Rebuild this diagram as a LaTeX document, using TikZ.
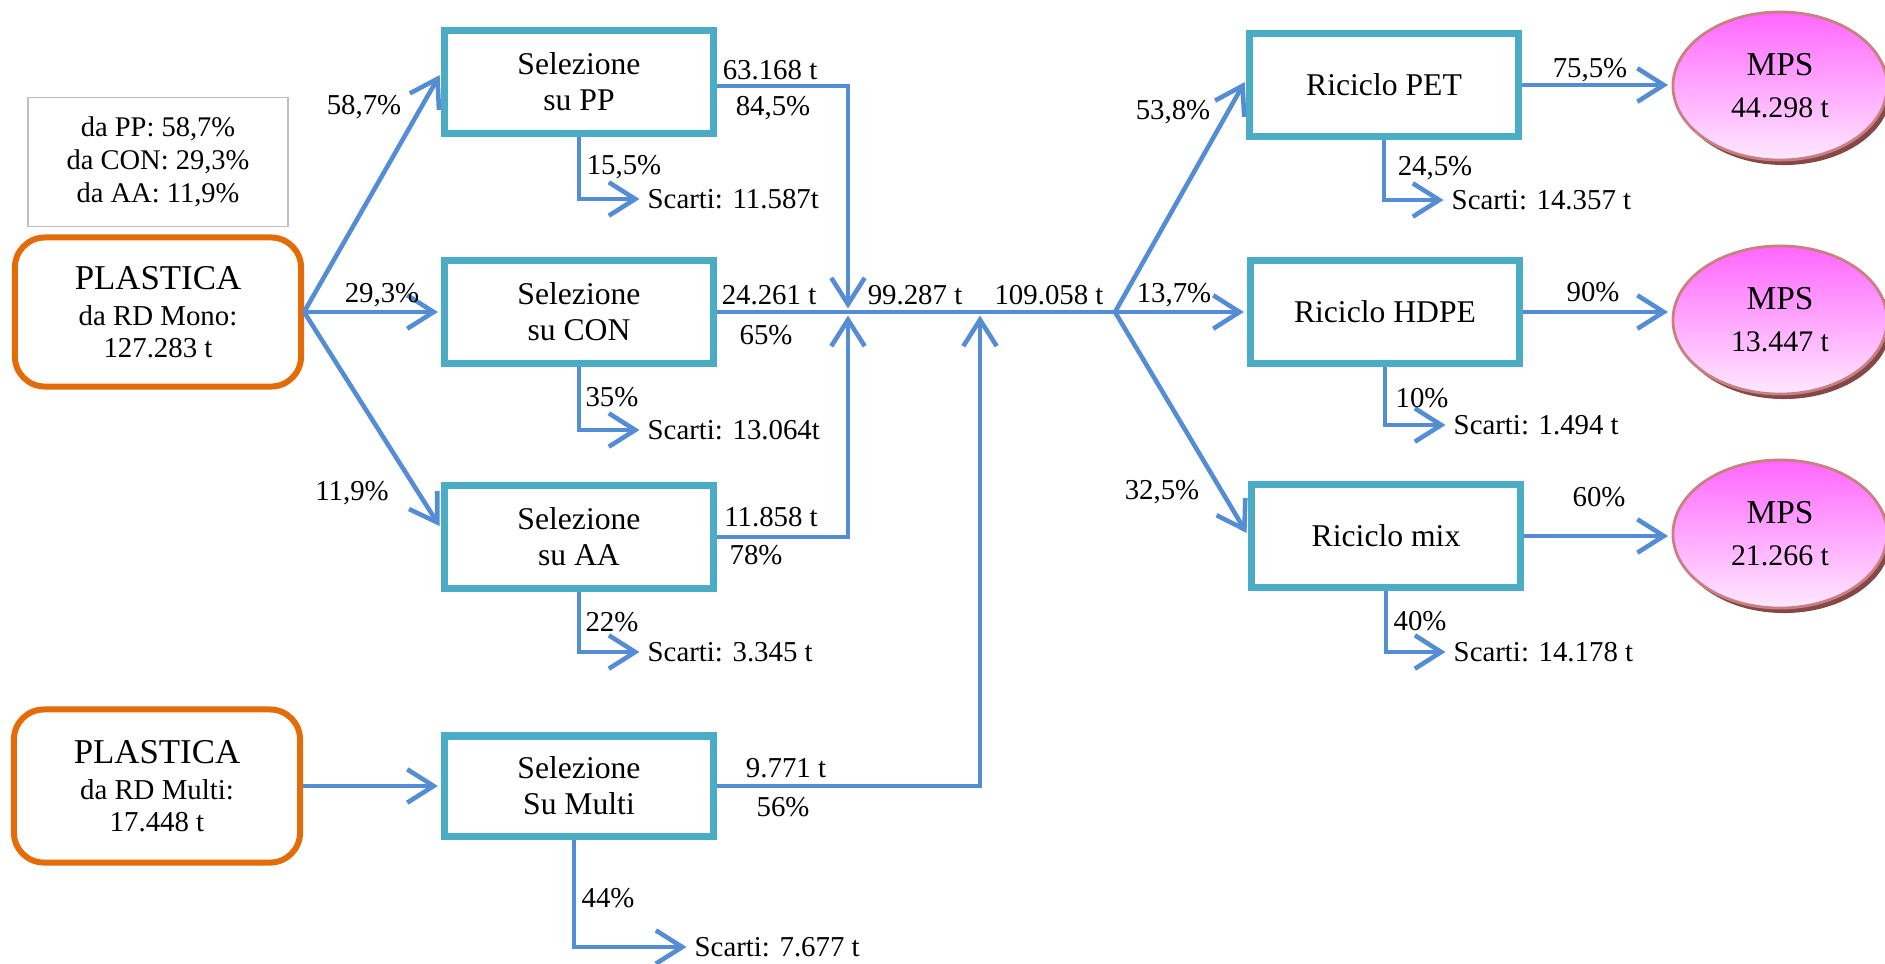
\documentclass[tikz,border=0pt]{standalone}
\usepackage{fontspec}
\setmainfont{Liberation Serif}
\usetikzlibrary{arrows.meta,shapes.geometric,shadows}
\definecolor{boxteal}{RGB}{75,172,198}
\definecolor{flowblue}{RGB}{84,141,212}
\definecolor{plasorange}{RGB}{227,108,9}
\definecolor{notegrey}{RGB}{191,191,191}
\definecolor{mpstop}{RGB}{255,102,255}
\definecolor{mpsbot}{RGB}{255,232,255}
\definecolor{mpsedge}{RGB}{200,128,128}
\definecolor{mpsshade}{RGB}{110,40,40}

\begin{document}
\begin{tikzpicture}[
    x=0.01cm, y=-0.01cm,
    selbox/.style={draw=boxteal, line width=2pt, minimum width=2.68cm, minimum height=1.03cm, align=center, font=\fontsize{9}{10.2}\selectfont},
    srcbox/.style={draw=plasorange, line width=1.7pt, rounded corners=3mm, minimum width=2.86cm, minimum height=1.49cm, align=center, font=\fontsize{8.2}{9.1}\selectfont},
    mpsnode/.style={ellipse, draw=mpsedge, line width=0.8pt, top color=mpstop, bottom color=mpsbot, minimum width=2.14cm, minimum height=1.48cm, inner sep=0pt, align=center, font=\fontsize{8.5}{11.9}\selectfont, drop shadow={shadow xshift=0.4mm, shadow yshift=-0.5mm, fill=mpsshade, opacity=0.85}},
    lbl/.style={inner sep=0pt, font=\fontsize{8.2}{9.6}\selectfont},
    scarti/.style={lbl, anchor=west, inner xsep=0.4mm},
    link/.style={draw=flowblue, line width=1.3pt},
    flow/.style={link, shorten >=1pt, -{Straight Barb[length=7.5pt,width=9.5pt]}}
  ]
  \useasboundingbox (0,0) rectangle (1885,963);

  % sources
  \node [draw=notegrey, line width=0.5pt, minimum width=2.6cm, minimum height=1.29cm, align=center, font=\fontsize{8.1}{9.4}\selectfont] (note) at (158,162) {da PP: 58,7\%\\ da CON: 29,3\%\\ da AA: 11,9\%};
  \node [srcbox] (mono) at (158,312) {{\fontsize{9.9}{10}\selectfont PLASTICA}\\[1.1pt] da RD Mono:\\ 127.283 t};
  \node [srcbox, minimum height=1.53cm] (multi) at (157,786) {{\fontsize{9.9}{10}\selectfont PLASTICA}\\[1.1pt] da RD Multi:\\ 17.448 t};

  % selection
  \node [selbox] (selPP) at (579,82) {Selezione\\ su PP};
  \node [selbox] (selCON) at (579,312) {Selezione\\ su CON};
  \node [selbox] (selAA) at (579,537) {Selezione\\ su AA};
  \node [selbox, minimum height=1.0cm] (selMulti) at (579,786) {Selezione\\ Su Multi};

  % recycling
  \node [selbox] (ricPET) at (1384,85) {Riciclo PET};
  \node [selbox] (ricHDPE) at (1385,312) {Riciclo HDPE};
  \node [selbox] (ricMix) at (1386,536) {Riciclo mix};

  \node [mpsnode] (mps1) at (1780,86) {{\fontsize{9.5}{10}\selectfont MPS}\\ 44.298 t};
  \node [mpsnode] (mps2) at (1780,320) {{\fontsize{9.5}{10}\selectfont MPS}\\ 13.447 t};
  \node [mpsnode] (mps3) at (1780,534) {{\fontsize{9.5}{10}\selectfont MPS}\\ 21.266 t};

  \coordinate (join1) at (848,312);
  \coordinate (join2) at (980,312);
  \coordinate (forkR) at (1115,312);

  % discards
  \node [scarti] (scPP) at (643,199) {Scarti: 11.587t};
  \node [scarti] (scCON) at (643,430) {Scarti: 13.064t};
  \node [scarti] (scAA) at (643,652) {Scarti: 3.345 t};
  \node [scarti] (scMulti) at (690,947) {Scarti: 7.677 t};
  \node [scarti] (scPET) at (1447,200) {Scarti: 14.357 t};
  \node [scarti] (scHDPE) at (1449,425) {Scarti: 1.494 t};
  \node [scarti] (scMix) at (1449,652) {Scarti: 14.178 t};

  % flows
  \draw [flow] (mono.east) -- ([yshift=1mm]selPP.west);
  \draw [flow] (mono.east) -- (mono.east -| selCON.west);
  \draw [flow] (mono.east) -- ([yshift=0.8mm]selAA.west);
  \draw [flow] ([yshift=-0.4mm]selPP.east) -| (join1);
  \draw [flow] (selAA.east) -| (join1);
  \draw [link] (selCON.east) -- (join1) -- (join2) -- (forkR);
  \draw [flow] (multi.east) -- (selMulti.west);
  \draw [flow] (selMulti.east) -| (join2);
  \draw [flow] (forkR) -- ([yshift=0.6mm]ricPET.west);
  \draw [flow] (forkR) -- (forkR -| ricHDPE.west);
  \draw [flow] (forkR) -- (ricMix.west);
  \draw [flow] (ricPET.east) -- (ricPET.east -| mps1.west);
  \draw [flow] (ricHDPE.east) -- (ricHDPE.east -| mps2.west);
  \draw [flow] (ricMix.east) -- (ricMix.east -| mps3.west);

  \draw [flow] (selPP.south) |- (scPP.west);
  \draw [flow] (selCON.south) |- (scCON.west);
  \draw [flow] (selAA.south) |- (scAA.west);
  \draw [flow] ([xshift=-0.5mm]selMulti.south) |- (scMulti.west);
  \draw [flow] (ricPET.south) |- (scPET.west);
  \draw [flow] (ricHDPE.south) |- (scHDPE.west);
  \draw [flow] (ricMix.south) |- (scMix.west);

  % labels
  \node [lbl] (p587) at (364,107) {58,7\%};
  \node [lbl] (p293) at (382,295) {29,3\%};
  \node [lbl] (p119) at (352,493) {11,9\%};
  \node [lbl] (tPP) at (770,70) {63.168 t};
  \node [lbl] (p845) at (773,108) {84,5\%};
  \node [lbl] (p155) at (624,167) {15,5\%};
  \node [lbl] (tCON) at (769,295) {24.261 t};
  \node [lbl] (p65) at (766,335) {65\%};
  \node [lbl] (p35) at (612,397) {35\%};
  \node [lbl] (tAA) at (771,517) {11.858 t};
  \node [lbl] (p78) at (756,555) {78\%};
  \node [lbl] (p22) at (612,622) {22\%};
  \node [lbl] (tMulti) at (786,768) {9.771 t};
  \node [lbl] (p56) at (783,807) {56\%};
  \node [lbl] (p44) at (608,898) {44\%};
  \node [lbl] (tSum1) at (915,295) {99.287 t};
  \node [lbl] (tSum2) at (1049,295) {109.058 t};
  \node [lbl] (p538) at (1173,112) {53,8\%};
  \node [lbl] (p137) at (1174,295) {13,7\%};
  \node [lbl] (p325) at (1162,492) {32,5\%};
  \node [lbl] (p755) at (1590,70) {75,5\%};
  \node [lbl] (p90) at (1593,292) {90\%};
  \node [lbl] (p60) at (1599,497) {60\%};
  \node [lbl] (p245) at (1435,168) {24,5\%};
  \node [lbl] (p10) at (1422,398) {10\%};
  \node [lbl] (p40) at (1420,621) {40\%};
\end{tikzpicture}
\end{document}
